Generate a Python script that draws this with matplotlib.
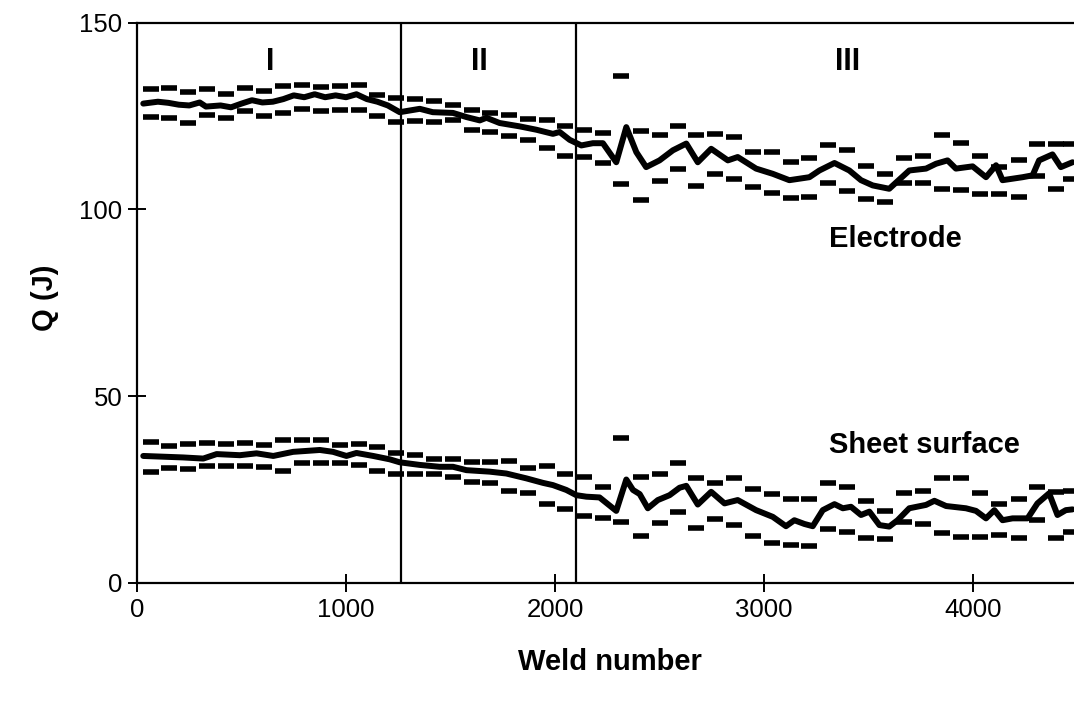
import matplotlib
matplotlib.use("Agg")
import matplotlib.pyplot as plt

plt.rcParams['font.family'] = ['Liberation Sans', 'DejaVu Sans']

# x positions (weld number) of the limit dashes
dash_welds = [65, 155, 246, 336, 426, 517, 607, 698, 788, 879,
              969, 1060, 1150, 1241, 1331, 1422, 1512, 1604, 1690, 1780,
              1870, 1961, 2049, 2141, 2229, 2318, 2409, 2500, 2590, 2675,
              2766, 2855, 2949, 3039, 3129, 3217, 3305, 3395, 3488, 3579,
              3668, 3759, 3850, 3942, 4034, 4125, 4218, 4305, 4396, 4468]

electrode_upper = [132.3, 132.5, 131.5, 132.3, 130.9, 132.4, 131.8, 132.9, 133.3, 132.7,
                   132.9, 133.3, 130.7, 129.9, 129.6, 128.9, 127.8, 126.7, 125.8, 125.2,
                   124.1, 123.8, 122.3, 121.1, 120.4, 135.8, 120.9, 119.8, 122.3, 120.0,
                   120.1, 119.3, 115.4, 115.4, 112.6, 113.7, 117.1, 116.0, 111.5, 109.5,
                   113.8, 114.4, 119.9, 117.8, 114.4, 111.3, 113.3, 117.4, 117.4, 117.4]

electrode_lower = [124.7, 124.5, 123.1, 125.2, 124.5, 126.2, 125.1, 125.7, 126.9, 126.2,
                   126.7, 126.5, 125.1, 123.5, 123.6, 123.3, 123.8, 121.1, 120.6, 119.5,
                   118.6, 116.5, 114.3, 114.0, 112.4, 106.9, 102.4, 107.5, 110.8, 106.3,
                   109.4, 108.0, 106.0, 104.5, 103.1, 103.3, 107.1, 104.8, 102.7, 102.0,
                   107.1, 107.1, 105.5, 105.1, 104.2, 104.2, 103.3, 108.8, 105.5, 108.0]

sheet_upper = [37.8, 36.6, 37.1, 37.5, 37.3, 37.5, 36.9, 38.2, 38.2, 38.2,
               36.9, 37.1, 36.3, 34.9, 34.2, 33.1, 33.1, 32.4, 32.4, 32.7,
               30.9, 31.3, 29.1, 28.3, 25.6, 38.7, 28.4, 29.1, 32.0, 28.0,
               26.8, 28.0, 25.1, 23.8, 22.6, 22.5, 26.8, 25.7, 21.9, 19.3,
               24.1, 24.6, 28.0, 28.0, 24.2, 21.1, 22.5, 25.7, 24.4, 24.7]

sheet_lower = [29.6, 30.9, 30.5, 31.3, 31.3, 31.3, 31.1, 30.0, 32.0, 32.0,
               32.0, 31.6, 30.0, 29.3, 29.3, 29.3, 28.4, 27.1, 26.7, 24.6,
               24.1, 21.1, 19.7, 18.0, 17.3, 16.4, 12.6, 16.1, 19.0, 14.6,
               17.1, 15.5, 12.6, 10.6, 10.2, 9.9, 14.4, 13.6, 12.0, 11.8,
               16.4, 15.7, 13.3, 12.2, 12.2, 12.8, 12.1, 16.8, 12.0, 13.7]

# mean (moving average) curves
electrode_x = [30, 100, 150, 200, 250, 300, 330, 400, 450, 500, 550, 600, 650, 700, 750,
               800, 850, 900, 950, 1000, 1050, 1100, 1150, 1200, 1257, 1353, 1415, 1512,
               1576, 1640, 1672, 1735, 1831, 1911, 1990, 2022, 2070, 2126, 2181, 2229,
               2293, 2341, 2389, 2436, 2500, 2564, 2628, 2683, 2747, 2827, 2874, 2962,
               3042, 3121, 3217, 3265, 3337, 3408, 3464, 3520, 3599, 3695, 3775, 3823,
               3878, 3918, 3998, 4062, 4110, 4141, 4237, 4285, 4316, 4380, 4420, 4476]
electrode_q = [128.3, 128.8, 128.5, 128.0, 127.8, 128.6, 127.5, 127.8, 127.3, 128.3, 129.2,
               128.6, 128.8, 129.5, 130.5, 130.0, 130.8, 130.0, 130.5, 130.0, 130.8, 129.5,
               128.8, 127.8, 126.0, 126.9, 126.0, 125.8, 124.7, 123.8, 124.5, 123.1, 122.2,
               121.3, 120.2, 120.7, 118.6, 117.1, 117.7, 117.7, 112.6, 122.0, 115.3, 111.3,
               113.1, 115.8, 117.6, 112.6, 116.2, 113.1, 114.0, 110.9, 109.5, 107.8, 108.6,
               110.4, 112.4, 110.4, 107.8, 106.4, 105.5, 110.4, 110.9, 112.2, 113.1, 110.9,
               111.5, 108.6, 111.8, 107.8, 108.6, 109.1, 113.1, 114.7, 111.3, 112.6]

sheet_x = [30, 126, 221, 317, 381, 492, 572, 652, 747, 875, 938, 1002, 1050, 1130, 1209,
           1257, 1353, 1448, 1512, 1576, 1687, 1767, 1863, 1942, 1990, 2054, 2102, 2150,
           2213, 2293, 2341, 2373, 2405, 2444, 2492, 2548, 2596, 2628, 2683, 2747, 2811,
           2874, 2962, 3042, 3105, 3145, 3193, 3233, 3281, 3337, 3377, 3416, 3464, 3504,
           3552, 3599, 3639, 3695, 3775, 3815, 3871, 3966, 4014, 4062, 4102, 4141, 4189,
           4261, 4308, 4364, 4404, 4444, 4476]
sheet_q = [34.0, 33.8, 33.6, 33.3, 34.5, 34.2, 34.7, 34.0, 35.1, 35.6, 35.1, 34.0, 34.8,
           34.0, 33.1, 32.3, 31.6, 31.1, 31.1, 30.2, 29.8, 29.3, 28.0, 26.8, 26.2, 24.9,
           23.5, 23.1, 22.9, 19.3, 27.7, 24.9, 23.8, 20.0, 22.2, 23.5, 25.5, 26.0, 21.0,
           24.4, 21.3, 22.2, 19.5, 17.7, 15.2, 16.8, 15.8, 15.2, 19.5, 21.1, 20.0, 20.4,
           18.2, 19.1, 15.5, 15.1, 16.8, 20.0, 20.9, 22.0, 20.6, 20.0, 19.3, 17.3, 19.5,
           16.8, 17.3, 17.3, 21.3, 24.0, 18.2, 19.5, 19.7]

stage_bounds = [1265, 2100]
stage_labels = ['I', 'II', 'III']
stage_label_x = [639, 1640, 3400]
x_ticks = [0, 1000, 2000, 3000, 4000]
y_ticks = [0, 50, 100, 150]

fig = plt.figure(figsize=(10.74, 7.02), dpi=100)
ax = fig.add_axes([137/1074, 1 - 583/702, 1 - 137/1074, (583 - 22.5)/702])
ax.set_xlim(0, 4483)
ax.set_ylim(0, 150)

dash_kw = dict(linestyle='none', marker='_', markersize=12, markeredgewidth=4.0,
               color='black', clip_on=False)
for ys in (electrode_upper, electrode_lower, sheet_upper, sheet_lower):
    ax.plot(dash_welds, ys, **dash_kw)

line_kw = dict(color='black', linewidth=4.3, solid_joinstyle='round', solid_capstyle='round')
ax.plot(electrode_x, electrode_q, **line_kw)
ax.plot(sheet_x, sheet_q, **line_kw)

for b in stage_bounds:
    ax.axvline(b, color='black', linewidth=1.6)

for lbl, xv in zip(stage_labels, stage_label_x):
    ax.text(xv, 137.4, lbl, ha='center', va='baseline', fontsize=22, fontweight='bold')

ax.text(3313, 90.0, 'Electrode', ha='left', va='baseline', fontsize=21, fontweight='bold')
ax.text(3313, 34.8, 'Sheet surface', ha='left', va='baseline', fontsize=21, fontweight='bold')

ax.set_xticks(x_ticks)
ax.set_yticks(y_ticks)
ax.tick_params(direction='inout', length=13, width=1.4, labelsize=18.5, pad=4)
for s in ('left', 'bottom', 'top'):
    ax.spines[s].set_linewidth(1.6)
ax.spines['right'].set_visible(False)

fig.text(610/1074, 1 - 662/702, 'Weld number', ha='center', va='center',
         fontsize=21, fontweight='bold')
fig.text(45/1074, 1 - 298/702, 'Q (J)', ha='center', va='center', rotation=90,
         fontsize=21, fontweight='bold')

fig.savefig('out.png', dpi=100)
